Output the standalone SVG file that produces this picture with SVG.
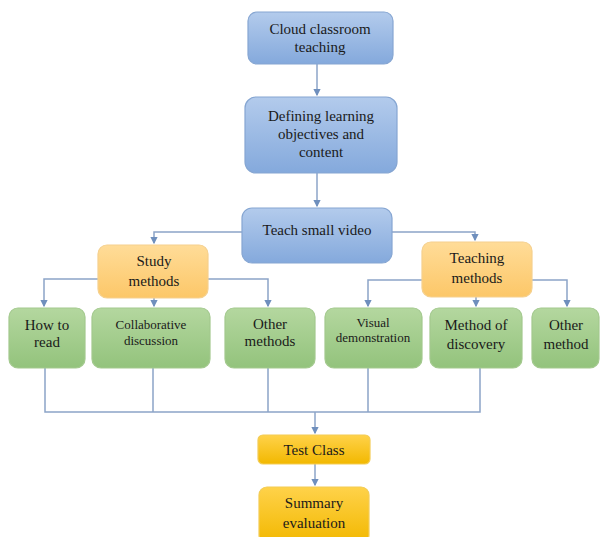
<svg xmlns="http://www.w3.org/2000/svg" width="601" height="537" viewBox="0 0 601 537">
<defs>
<linearGradient id="gBlue" x1="0" y1="0" x2="0" y2="1"><stop offset="0" stop-color="#b3cbec"/><stop offset="1" stop-color="#84a9dc"/></linearGradient>
<linearGradient id="gOrange" x1="0" y1="0" x2="0" y2="1"><stop offset="0" stop-color="#ffdc98"/><stop offset="1" stop-color="#fcc768"/></linearGradient>
<linearGradient id="gGreen" x1="0" y1="0" x2="0" y2="1"><stop offset="0" stop-color="#b4d79f"/><stop offset="1" stop-color="#93c37c"/></linearGradient>
<linearGradient id="gGold" x1="0" y1="0" x2="0" y2="1"><stop offset="0" stop-color="#ffd24a"/><stop offset="1" stop-color="#f2b800"/></linearGradient>
<marker id="arr" viewBox="0 0 6 6" refX="5" refY="3" markerWidth="5" markerHeight="5" orient="auto"><path d="M0,0 L6,3 L0,6 z" fill="#6f8fbd"/></marker>
</defs>
<style>
.blue{fill:url(#gBlue);stroke:#86a6d2;stroke-width:1.2}
.orange{fill:url(#gOrange);stroke:#f5d08e;stroke-width:1.2}
.green{fill:url(#gGreen);stroke:#a3c98e;stroke-width:1.2}
.gold{fill:url(#gGold);stroke:#f3cc55;stroke-width:1.2}
text{font-family:"Liberation Serif","Times New Roman",serif;font-size:15px;fill:#1a1a1a;text-anchor:middle}
.sm{font-size:13px}
.cn{fill:none;stroke:#8ca4c8;stroke-width:1.5}
</style>
<rect width="601" height="537" fill="#ffffff"/>
<g id="connectors">
<path class="cn" d="M317,64 V95" marker-end="url(#arr)"/>
<path class="cn" d="M317,173 V206" marker-end="url(#arr)"/>
<path class="cn" d="M242,232 H154 V243" marker-end="url(#arr)"/>
<path class="cn" d="M392,232 H475 V240" marker-end="url(#arr)"/>
<path class="cn" d="M98,279 H44 V306" marker-end="url(#arr)"/>
<path class="cn" d="M154,298 V306" marker-end="url(#arr)"/>
<path class="cn" d="M208,279 H268 V306" marker-end="url(#arr)"/>
<path class="cn" d="M422,280 H368 V306" marker-end="url(#arr)"/>
<path class="cn" d="M476,297 V306" marker-end="url(#arr)"/>
<path class="cn" d="M532,280 H567 V306" marker-end="url(#arr)"/>
<path class="cn" d="M45,368 V412 H480 V368 M153,368 V412 M268,368 V412 M368,368 V412"/>
<path class="cn" d="M315,412 V433" marker-end="url(#arr)"/>
<path class="cn" d="M315,464 V485" marker-end="url(#arr)"/>
</g>
<g id="cloud"><rect class="blue" x="248" y="12" width="145" height="52" rx="9"/><text x="320" y="34">Cloud classroom</text><text x="320" y="52">teaching</text></g>
<g id="defining"><rect class="blue" x="245" y="97" width="152" height="76" rx="11"/><text x="321" y="121">Defining learning</text><text x="321" y="139">objectives and</text><text x="321" y="157">content</text></g>
<g id="teach"><rect class="blue" x="242" y="208" width="150" height="55" rx="10"/><text x="317" y="235">Teach small video</text></g>
<g id="study"><rect class="orange" x="98" y="245" width="110" height="53" rx="9"/><text x="154" y="266">Study</text><text x="154" y="286">methods</text></g>
<g id="teaching"><rect class="orange" x="422" y="242" width="110" height="55" rx="9"/><text x="477" y="263">Teaching</text><text x="477" y="283">methods</text></g>
<g id="howto"><rect class="green" x="9" y="308" width="76" height="60" rx="9"/><text x="47" y="330">How to</text><text x="47" y="347">read</text></g>
<g id="collab"><rect class="green" x="92" y="308" width="118" height="60" rx="9"/><text class="sm" x="151" y="329">Collaborative</text><text class="sm" x="151" y="345">discussion</text></g>
<g id="otherm"><rect class="green" x="225" y="308" width="90" height="60" rx="9"/><text x="270" y="329">Other</text><text x="270" y="346">methods</text></g>
<g id="visual"><rect class="green" x="325" y="308" width="97" height="60" rx="9"/><text class="sm" x="373" y="327">Visual</text><text class="sm" x="373" y="342">demonstration</text></g>
<g id="discovery"><rect class="green" x="430" y="308" width="92" height="60" rx="9"/><text x="476" y="330">Method of</text><text x="476" y="349">discovery</text></g>
<g id="other"><rect class="green" x="532" y="308" width="67" height="60" rx="9"/><text x="566" y="330">Other</text><text x="566" y="349">method</text></g>
<g id="test"><rect class="gold" x="258" y="435" width="112" height="29" rx="5"/><text x="314" y="455">Test Class</text></g>
<g id="summary"><rect class="gold" x="259" y="487" width="110" height="56" rx="8"/><text x="314" y="508">Summary</text><text x="314" y="528">evaluation</text></g>
</svg>
